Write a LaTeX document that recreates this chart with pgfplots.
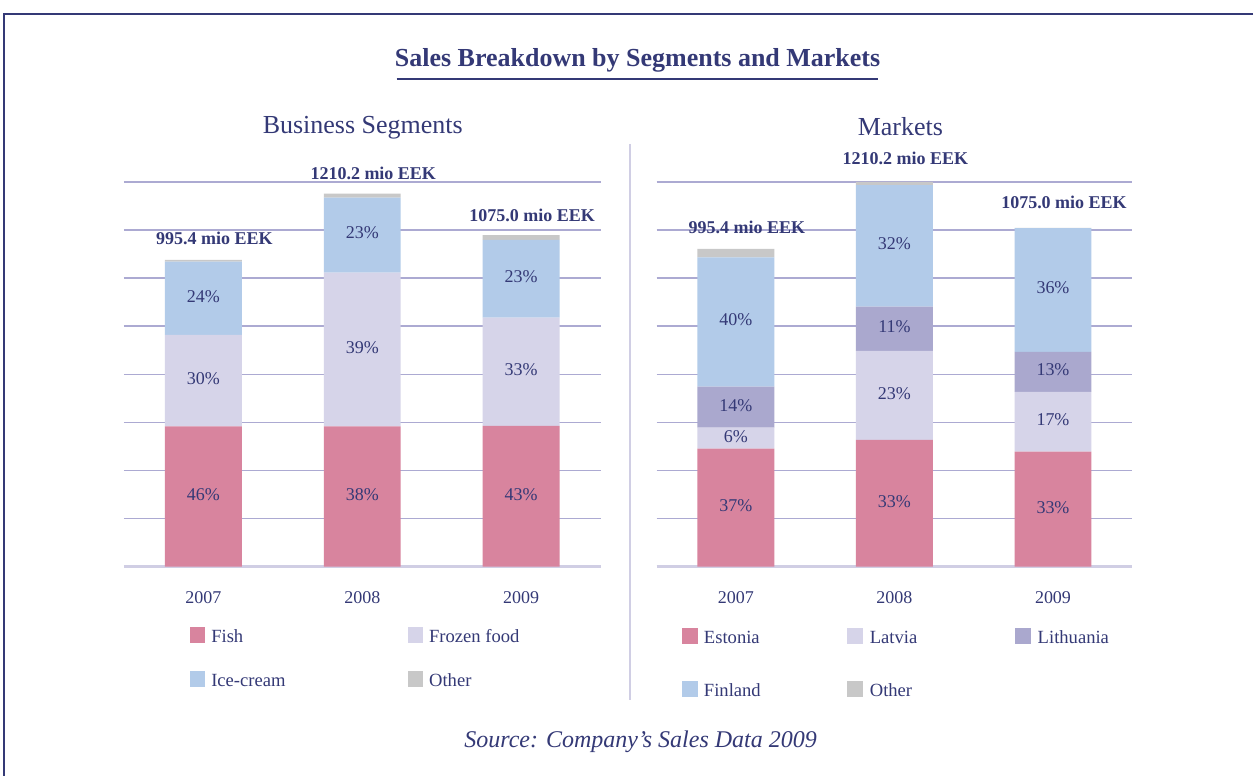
\documentclass[border=0pt]{standalone}
\usepackage{pgfplots}
\pgfplotsset{compat=1.18}
\usepackage{fontspec}
\setmainfont{Liberation Serif}
\definecolor{navy}{RGB}{52,57,118}
\definecolor{cfish}{RGB}{216,132,158}
\definecolor{cfroz}{RGB}{214,212,233}
\definecolor{cice}{RGB}{178,203,233}
\definecolor{clit}{RGB}{170,168,206}
\definecolor{coth}{RGB}{200,200,200}
\definecolor{gridc}{RGB}{172,170,210}
\definecolor{basec}{RGB}{208,206,228}
\pgfplotsset{
  panel/.style={
    scale only axis, width=238.5pt, height=192.5pt,
    ybar stacked, bar width=38.5pt,
    xmin=-0.5, xmax=2.5, ymin=0,
    xtick={0,1,2}, xticklabels={2007,2008,2009},
    axis line style={draw=none}, major tick length=0pt,
    yticklabels={}, ymajorgrids,
    grid style={draw=gridc, line width=0.75pt},
    extra y ticks={0}, extra y tick labels={},
    extra y tick style={grid style={draw=basec, line width=1.3pt}},
    tick label style={font=\fontsize{9}{10}\selectfont, text=navy},
    xticklabel style={yshift=-9pt},
    /pgf/number format/assume math mode=true,
    point meta=explicit symbolic,
  },
  seg/.style={fill=#1, draw=none, nodes near coords, nodes near coords align=center,
    every node near coord/.append style={font=\fontsize{9}{10}\selectfont, text=navy, yshift=1pt}},
  tot/.style={fill=coth, draw=none, nodes near coords, nodes near coords align=vertical,
    every node near coord/.append style={font=\fontsize{9}{10}\selectfont\bfseries, text=navy, xshift=5.5pt, yshift=#1}},
}
\begin{document}
\begin{tikzpicture}
\begin{scope}[x=0.5pt, y=-0.5pt]
  \fill[white] (0,0) rectangle (1254,776);
  \draw[navy, line width=0.8pt] (1254,14) -- (4,14) -- (4,776);
  \node[font=\fontsize{13}{15}\selectfont\bfseries, text=navy] at (638,60) {Sales Breakdown by Segments and Markets};
  \draw[navy, line width=1pt] (397,79.5) -- (879,79.5);
  \node[font=\fontsize{13}{15}\selectfont, text=navy] at (363,128) {Business Segments};
  \node[font=\fontsize{13}{15}\selectfont, text=navy] at (901,127) {Markets};
  \draw[basec, line width=1.1pt] (630,144) -- (630,700);
  % legends
  \tikzset{lt/.style={anchor=base west, inner sep=0pt, font=\fontsize{9.3}{11}\selectfont, text=navy}}
  \fill[cfish] (190,627) rectangle (205,643); \node[lt] at (211,643) {Fish};
  \fill[cfroz] (408,627) rectangle (423,643); \node[lt] at (429,643) {Frozen food};
  \fill[cice]  (190,671) rectangle (205,687); \node[lt] at (211,687) {Ice-cream};
  \fill[coth]  (408,671) rectangle (423,687); \node[lt] at (429,687) {Other};
  \fill[cfish] (682,628) rectangle (698,644); \node[lt] at (704,644) {Estonia};
  \fill[cfroz] (848,628) rectangle (864,644); \node[lt] at (870,644) {Latvia};
  \fill[clit]  (1016,628) rectangle (1032,644); \node[lt] at (1038,644) {Lithuania};
  \fill[cice]  (682,681) rectangle (698,697); \node[lt] at (704,697) {Finland};
  \fill[coth]  (848,681) rectangle (864,697); \node[lt] at (870,697) {Other};
  \node[font=\fontsize{12}{14}\selectfont\itshape, text=navy] at (641,742) {Source: Company’s Sales Data 2009};
\end{scope}

\begin{axis}[panel, at={(62pt,-283.5pt)}, anchor=south west, ymax=1248,
  ytick={156,312,...,1248}]
  \addplot[seg=cfish] coordinates {(0,455) [46\%] (1,455) [38\%] (2,457) [43\%]};
  \addplot[seg=cfroz] coordinates {(0,297) [30\%] (1,499) [39\%] (2,351) [33\%]};
  \addplot[seg=cice] coordinates {(0,237) [24\%] (1,243) [23\%] (2,252) [23\%]};
  \addplot[tot=4.5pt] coordinates {(0,6.4) [995.4 mio EEK] (1,13.2) [1210.2 mio EEK] (2,15) [1075.0 mio EEK]};
\end{axis}

\begin{axis}[panel, at={(328.5pt,-283.5pt)}, anchor=south west, width=238pt, ymax=1210.2,
  ytick={151.275,302.55,453.825,605.1,756.375,907.65,1058.925,1210.2}]
  \addplot[seg=cfish] coordinates {(0,371) [37\%] (1,399) [33\%] (2,361.5) [33\%]};
  \addplot[seg=cfroz] coordinates {(0,66) [6\%] (1,280) [23\%] (2,188.6) [17\%]};
  \addplot[seg=clit] coordinates {(0,129) [14\%] (1,139) [11\%] (2,125.7) [13\%]};
  \addplot[seg=cice] coordinates {(0,406.5) [40\%] (1,382) [32\%] (2,388.9) [36\%]};
  \addplot[tot=6pt] coordinates {(0,27.3) [995.4 mio EEK] (1,10.2) [1210.2 mio EEK] (2,0.5) [1075.0 mio EEK]};
\end{axis}
\end{tikzpicture}
\end{document}
